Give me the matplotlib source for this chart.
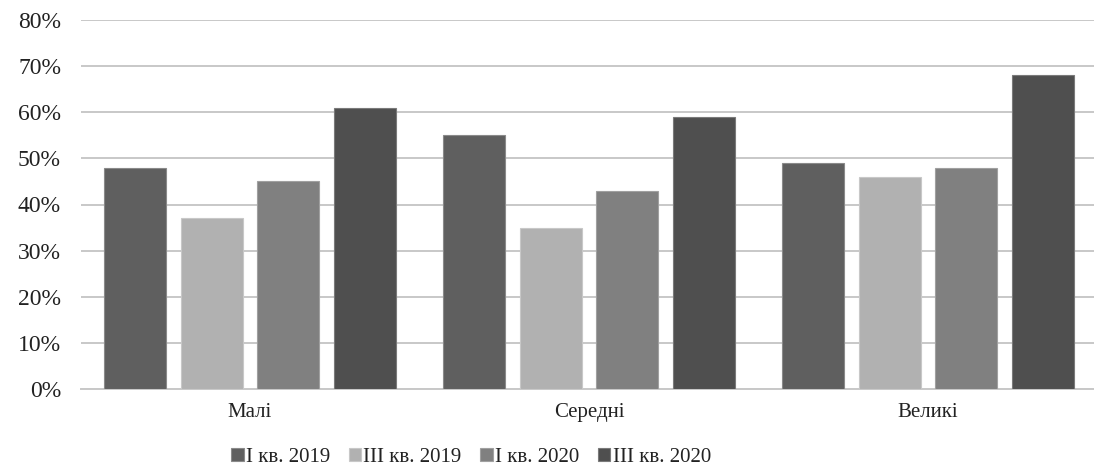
import matplotlib
matplotlib.use("Agg")
import matplotlib.pyplot as plt
import numpy as np
from matplotlib.ticker import FuncFormatter

categories = ["Малі", "Середні", "Великі"]
series_names = ["І кв. 2019", "ІІІ кв. 2019", "І кв. 2020", "ІІІ кв. 2020"]
q1_2019 = [48, 55, 49]
q3_2019 = [37, 35, 46]
q1_2020 = [45, 43, 48]
q3_2020 = [61, 59, 68]
series_values = [q1_2019, q3_2019, q1_2020, q3_2020]
colors = ["#5f5f5f", "#b1b1b1", "#808080", "#4f4f4f"]
edge_colors = ["#8a8a8a", "#c8c8c8", "#a0a0a0", "#7a7a7a"]

plt.rcParams['font.family'] = ['Liberation Serif', 'DejaVu Serif']

W, H = 1094, 468
fig = plt.figure(figsize=(W / 100, H / 100), dpi=100)
left, right = 80.5, 1097.5
bottom, top = 389, 20
ax = fig.add_axes([left / W, (H - bottom) / H, (right - left) / W, (bottom - top) / H])

x = np.arange(len(categories))
bw = 0.183
pitch = 0.227
for i, (vals, c, ec) in enumerate(zip(series_values, colors, edge_colors)):
    ax.bar(x + (i - 1.5) * pitch, vals, width=bw, color=c, edgecolor=ec,
           linewidth=0.8, label=series_names[i], zorder=3)

ax.set_xlim(-0.5, len(categories) - 0.5)
ax.set_ylim(0, 80)
ax.set_yticks(np.arange(0, 81, 10))
ax.yaxis.set_major_formatter(FuncFormatter(lambda v, p: f"{int(v)}%"))
ax.set_xticks(x)
ax.set_xticklabels(categories)
ax.grid(axis='y', color='#c8c8c8', linewidth=1.4, zorder=0)
ax.set_axisbelow(True)
for s in ['top', 'right', 'left']:
    ax.spines[s].set_visible(False)
ax.spines['bottom'].set_color('#c8c8c8')
ax.spines['bottom'].set_linewidth(1.4)
ax.tick_params(axis='x', length=0, labelsize=15, colors='#222222', pad=10)
ax.tick_params(axis='y', length=0, labelsize=17, colors='#222222', pad=14)

handles, labels = ax.get_legend_handles_labels()
fig.legend(handles, labels, loc='center', bbox_to_anchor=(471 / W, 1 - 457 / H),
           ncol=4, frameon=False, fontsize=15, handlelength=0.6, handleheight=0.6,
           handletextpad=0.1, columnspacing=0.9, labelcolor='#222222')

fig.savefig("out.png", dpi=100)
